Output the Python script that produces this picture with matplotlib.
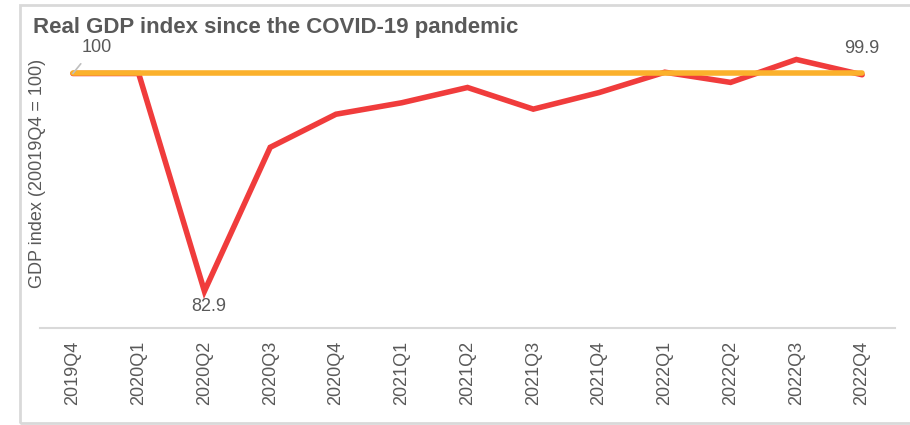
import matplotlib.pyplot as plt
from matplotlib.patches import Rectangle

plt.rcParams['font.family'] = ['Liberation Sans', 'DejaVu Sans']

quarters = ['2019Q4', '2020Q1', '2020Q2', '2020Q3', '2020Q4', '2021Q1', '2021Q2',
            '2021Q3', '2021Q4', '2022Q1', '2022Q2', '2022Q3', '2022Q4']
gdp_index = [100.0, 100.0, 82.9, 94.2, 96.8, 97.7, 98.9, 97.2, 98.5, 100.1, 99.3, 101.1, 99.9]
baseline = [100.0] * len(quarters)

text_grey = '#595959'
x = range(len(quarters))

fig = plt.figure(figsize=(9.1, 4.25), dpi=100)
fig.patches.append(Rectangle((20 / 910, 2 / 425), 0.99, 1 - 7 / 425, transform=fig.transFigure,
                             fill=False, edgecolor='#d9d9d9', linewidth=2))
ax = fig.add_axes([40 / 910, 0.228, 855 / 910, 0.659])

ax.plot(x, gdp_index, color='#f03c3c', linewidth=4, solid_capstyle='round', solid_joinstyle='miter')
ax.plot(x, baseline, color='#fbb12c', linewidth=4, solid_capstyle='round')

ax.set_xlim(-0.5, len(quarters) - 0.5)
ax.set_ylim(80, 102)
ax.set_xticks(list(x))
ax.set_xticklabels(quarters, rotation=90, fontsize=13, color=text_grey)
ax.tick_params(axis='x', length=0, pad=9)
ax.set_yticks([])
for s in ['top', 'right', 'left']:
    ax.spines[s].set_visible(False)
ax.spines['bottom'].set_color('#d9d9d9')
ax.spines['bottom'].set_linewidth(1.5)

fig.text(38 / 910, 1 - 173 / 425, 'GDP index (20019Q4 = 100)', fontsize=13, color=text_grey,
         rotation=90, ha='center', va='center')

# data labels
ax.annotate(f'{gdp_index[0]:.0f}', xy=(0, gdp_index[0]), xytext=(17, 19), textcoords='offset points',
            ha='center', va='center', fontsize=13, color=text_grey,
            arrowprops=dict(arrowstyle='-', color='#bfbfbf', lw=1.2, shrinkA=5, shrinkB=0,
                            relpos=(0.2, 0.0)))
low = gdp_index.index(min(gdp_index))
ax.annotate(f'{gdp_index[low]:.1f}', xy=(low, gdp_index[low]), xytext=(3, -11), textcoords='offset points',
            ha='center', va='center', fontsize=13, color=text_grey)
ax.annotate(f'{gdp_index[-1]:.1f}', xy=(len(quarters) - 1, gdp_index[-1]), xytext=(0, 19),
            textcoords='offset points', ha='center', va='center', fontsize=13, color=text_grey)

fig.text(33 / 910, 1 - 27 / 425, 'Real GDP index since the COVID-19 pandemic', fontsize=16,
         fontweight='bold', color=text_grey, va='center', ha='left')

fig.savefig('out.png', dpi=100)
